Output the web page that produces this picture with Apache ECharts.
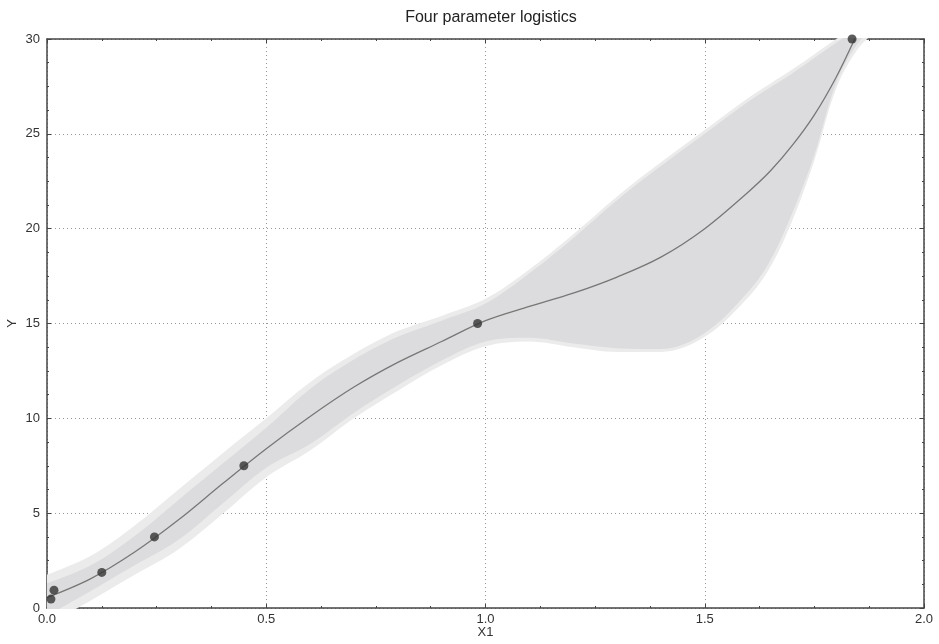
<!DOCTYPE html>
<html>
<head>
<meta charset="utf-8">
<script src="https://cdn.jsdelivr.net/npm/echarts@6/dist/echarts.min.js"></script>
<style>
  html, body { margin: 0; padding: 0; background: #fff; }
  #chart { width: 939px; height: 644px; }
</style>
</head>
<body>
<div id="chart"></div>
<script>
// sample positions along X1
const xs = [0, 0.1, 0.2, 0.3, 0.4, 0.5, 0.6, 0.7, 0.8, 0.9, 1.0, 1.1, 1.2, 1.3, 1.4, 1.5,
  1.6, 1.65, 1.7, 1.75, 1.8, 1.85, 1.9];
// fitted curve
const fitY = [0.55, 1.55, 2.95, 4.65, 6.55, 8.4, 10.1, 11.65, 12.95, 14.05, 15.15, 15.9, 16.6, 17.45,
  18.5, 20.0, 21.95, 23.05, 24.4, 26.0, 28.0, 30.4, 33.0];
// outer (light) band
const outerHigh = [1.75, 2.75, 4.35, 6.25, 8.15, 10.0, 11.9, 13.4, 14.6, 15.4, 16.3, 17.85, 19.7, 21.7,
  23.5, 25.2, 26.9, 27.65, 28.4, 29.2, 30.0, 30.8, 31.6];
const outerLow = [-0.9, 0.4, 1.75, 3.1, 4.95, 6.9, 8.3, 10.0, 11.45, 12.8, 13.8, 14.05, 13.75, 13.5,
  13.5, 14.3, 16.4, 18.0, 20.45, 23.6, 27.4, 29.5, 30.6];
// inner (dark) band
const innerHigh = [1.3, 2.25, 3.8, 5.7, 7.6, 9.5, 11.55, 13.1, 14.3, 15.15, 16.05, 17.65, 19.5, 21.5,
  23.3, 25.0, 26.7, 27.45, 28.2, 29.0, 29.8, 30.6, 31.4];
const innerLow = [-0.4, 0.9, 2.25, 3.6, 5.5, 7.4, 8.65, 10.3, 11.75, 13.05, 14.05, 14.25, 13.95, 13.7,
  13.65, 14.5, 16.7, 18.35, 20.85, 23.9, 27.7, 29.8, 30.9];
// observed points
const pointX = [0.009, 0.016, 0.125, 0.245, 0.449, 0.982, 1.836];
const pointY = [0.47, 0.94, 1.875, 3.75, 7.5, 15.0, 30.0];

const FONT = 'Liberation Sans';
const AXIS_COLOR = '#444';
const SMOOTH = 0.35;

// band rows are [y, x] so the stack runs on the y value (first dimension)
const bandRows = (ys) => xs.map((x, i) => [ys[i], x]);
const diffRows = (hi, lo) => xs.map((x, i) => [+(hi[i] - lo[i]).toFixed(3), x]);

const chart = echarts.init(document.getElementById('chart'), null, { renderer: 'canvas' });

const frameAxis = {
  axisLine: { show: true, onZero: false, lineStyle: { color: AXIS_COLOR, width: 1.5 } },
  axisTick: { show: true, inside: true, length: 4, lineStyle: { color: AXIS_COLOR } },
  minorTick: { show: true, splitNumber: 4, length: 2, lineStyle: { color: AXIS_COLOR } },
};

const bandSeries = (name, data, stack, fill) => ({
  name, type: 'line', data, stack, stackStrategy: 'all',
  encode: { x: 1, y: 0 },
  smooth: SMOOTH, symbol: 'none', silent: true,
  lineStyle: { opacity: 0 },
  areaStyle: fill ? { color: fill, opacity: 1 } : undefined,
});

chart.setOption({
  animation: false,
  title: {
    text: 'Four parameter logistics',
    left: 486, top: 5, textAlign: 'center',
    textStyle: { fontFamily: FONT, fontSize: 16, fontWeight: 'normal', color: '#222' },
  },
  grid: { left: 47, right: 15, top: 39, bottom: 36, containLabel: false, outerBoundsMode: 'none' },
  xAxis: [
    {
      type: 'value', min: 0, max: 2, interval: 0.5,
      name: 'X1', nameLocation: 'middle', nameGap: 18, nameMoveOverlap: false,
      nameTextStyle: { fontFamily: FONT, fontSize: 13, color: '#333' },
      axisLabel: { fontFamily: FONT, fontSize: 13, color: '#333', margin: 5,
        formatter: (v) => v.toFixed(1) },
      splitLine: { show: true, lineStyle: { color: '#999', type: [1, 3], width: 1 } },
      ...frameAxis,
    },
    {
      type: 'value', min: 0, max: 2, interval: 0.5, position: 'top',
      axisLabel: { show: false }, splitLine: { show: false },
      ...frameAxis,
    },
  ],
  yAxis: [
    {
      type: 'value', min: 0, max: 30, interval: 5,
      name: 'Y', nameLocation: 'middle', nameGap: 28, nameMoveOverlap: false,
      nameTextStyle: { fontFamily: FONT, fontSize: 13, color: '#333' },
      axisLabel: { fontFamily: FONT, fontSize: 13, color: '#333', margin: 7 },
      splitLine: { show: true, lineStyle: { color: '#999', type: [1, 3], width: 1 } },
      ...frameAxis,
    },
    {
      type: 'value', min: 0, max: 30, interval: 5, position: 'right',
      axisLabel: { show: false }, splitLine: { show: false },
      ...frameAxis,
    },
  ],
  series: [
    bandSeries('outerBase', bandRows(outerLow), 'outer'),
    bandSeries('outerBand', diffRows(outerHigh, outerLow), 'outer', '#ebebeb'),
    bandSeries('innerBase', bandRows(innerLow), 'inner'),
    bandSeries('innerBand', diffRows(innerHigh, innerLow), 'inner', '#dcdcde'),
    {
      name: 'fit', type: 'line', data: xs.map((x, i) => [x, fitY[i]]),
      smooth: SMOOTH, symbol: 'none',
      lineStyle: { color: '#777', width: 1.3 },
    },
    {
      name: 'points', type: 'scatter', data: pointX.map((x, i) => [x, pointY[i]]),
      symbolSize: 9, itemStyle: { color: '#333' }, z: 5,
    },
  ],
});
</script>
</body>
</html>
